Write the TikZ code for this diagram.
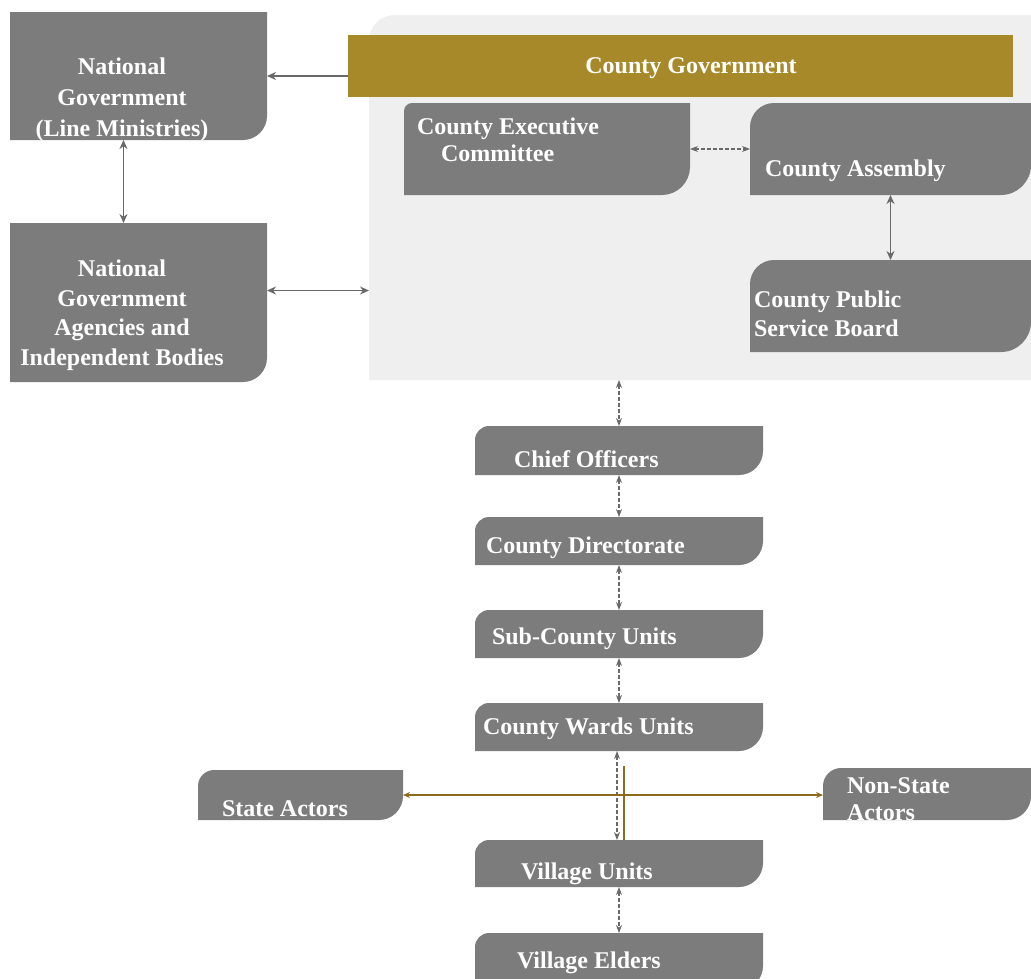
\documentclass[tikz,border=0pt]{standalone}
\usepackage{fontspec}
\setmainfont{Liberation Serif}
\usetikzlibrary{arrows.meta}
\definecolor{boxgray}{RGB}{124,124,124}
\definecolor{panelgray}{RGB}{239,239,239}
\definecolor{bargold}{RGB}{168,137,42}
\definecolor{arrowgray}{RGB}{105,105,105}
\definecolor{goldline}{RGB}{140,108,28}
\tikzset{
  boxfill/.style={fill=boxgray},
  hitbox/.style={inner sep=0pt, outer sep=0pt, draw=none, rectangle},
  lbl/.style={text=white, font=\fontsize{24}{28}\selectfont\bfseries, inner sep=0pt, outer sep=0pt},
  garrow/.style={draw=arrowgray, line width=1.4pt, {Stealth[length=9pt,width=8pt]}-{Stealth[length=9pt,width=8pt]}},
  oneway/.style={draw=arrowgray, line width=1.4pt, -{Stealth[length=9pt,width=8pt]}},
  sarrow/.style={draw=arrowgray, line width=1.1pt, dash pattern=on 4pt off 2pt, {Stealth[length=8pt,width=6pt]}-{Stealth[length=8pt,width=6pt]}},
  goldarrow/.style={draw=goldline, line width=1.8pt, {Stealth[length=7pt,width=6pt]}-{Stealth[length=7pt,width=6pt]}},
  goldstem/.style={draw=goldline, line width=2.6pt},
}
% name, x1, y1, x2, y2, top-left radius, bottom-right radius
\newcommand{\gbx}[7]{%
  \fill[boxfill] (#2,#3+#6) .. controls (#2,#3+0.45*#6) and (#2+0.45*#6,#3) .. (#2+#6,#3) -- (#4,#3) -- (#4,#5-#7) .. controls (#4,#5-0.45*#7) and (#4-0.45*#7,#5) .. (#4-#7,#5) -- (#2,#5) -- cycle;
  \node[hitbox, minimum width={(#4-#2)*1pt}, minimum height={(#5-#3)*1pt}] (#1) at ({(#2+#4)/2},{(#3+#5)/2}) {};
}
\begin{document}
\begin{tikzpicture}[x=1pt, y=-1pt]
\fill[white] (0,0) rectangle (1031,978);
\useasboundingbox (0,0) rectangle (1031,978);

% county panel
\fill[panelgray] (369,42) .. controls (369,26) and (380,15) .. (396,15) -- (1031,15) -- (1031,380) -- (369,380) -- cycle;
\node[hitbox, minimum width=662pt, minimum height=365pt] (panel) at (700,197.5) {};

% national boxes
\gbx{nat}{10}{12}{267}{140}{0}{24}
\gbx{ag}{10}{223}{267}{382}{0}{24}
\node[lbl, align=center, font=\fontsize{24}{31}\selectfont\bfseries] (natT) at (122,100) {National\\Government\\(Line Ministries)};
\node[lbl, align=center, font=\fontsize{24}{29.5}\selectfont\bfseries] (agT) at (122,315) {National\\Government\\Agencies and\\Independent Bodies};

% county government bar
\node[hitbox, fill=bargold, minimum width=665pt, minimum height=62pt] (bar) at (680.5,66) {};
\node[lbl] (barT) at (691,68) {County Government};

% county boxes
\gbx{cec}{404}{103}{690}{195}{8}{28}
\gbx{asm}{750}{103}{1031}{195}{24}{30}
\gbx{psb}{750}{260}{1031}{352}{24}{30}
\node[lbl, anchor=west, align=left, font=\fontsize{24}{27}\selectfont\bfseries] (cecT) at (417,140) {County Executive\\\hspace*{24pt}Committee};
\node[lbl, anchor=west] (asmT) at (765,171) {County Assembly};
\node[lbl, anchor=west, align=left, font=\fontsize{24}{29}\selectfont\bfseries] (psbT) at (754,314) {County Public\\Service Board};

% central column
\gbx{chief}{475}{426}{763}{475}{14}{24}
\gbx{dir}{475}{517}{763}{565}{14}{24}
\gbx{sub}{475}{610}{763}{658}{14}{24}
\gbx{wards}{475}{703}{763}{751}{14}{24}
\gbx{vill}{475}{840}{763}{887}{14}{24}
\gbx{eld}{475}{933}{763}{990}{14}{24}
\node[lbl, anchor=west] (chiefT) at (514,459) {Chief Officers};
\node[lbl, anchor=west] (dirT) at (486,548) {County Directorate};
\node[lbl, anchor=west] (subT) at (492,639) {Sub-County Units};
\node[lbl, anchor=west] (wardsT) at (483,729) {County Wards Units};
\node[lbl, anchor=west] (villT) at (521,874) {Village Units};
\node[lbl, anchor=west] (eldT) at (517,963) {Village Elders};

% actors
\gbx{state}{198}{770}{403}{820}{16}{24}
\gbx{nonstate}{823}{768}{1031}{820}{18}{24}
\node[lbl, anchor=west] (stateT) at (222,809) {State Actors};
\node[lbl, anchor=west, align=left, font=\fontsize{24}{27}\selectfont\bfseries] (nonstateT) at (847,799) {Non-State\\Actors};

% connectors
\draw[oneway] (bar.west |- nat.east) -- (nat.east);
\draw[garrow] ([xshift=-15pt]nat.south) -- ([xshift=-15pt]ag.north);
\draw[garrow] ([yshift=12pt]ag.east) -- ([yshift=12pt]ag.east -| panel.west);
\draw[sarrow] (cec.east) -- (asm.west);
\draw[garrow] (asm.south) -- (psb.north);
\draw[sarrow] (panel.south -| chief.north) -- (chief.north);
\draw[sarrow] (chief.south) -- (dir.north);
\draw[sarrow] (dir.south) -- (sub.north);
\draw[sarrow] (sub.south) -- (wards.north);
\draw[sarrow] ([xshift=-2pt]wards.south) -- ([xshift=-2pt]vill.north);
\draw[sarrow] (vill.south) -- (eld.north);

% gold connectors
\coordinate (goldtop) at (624,766);
\draw[goldstem] ([xshift=5pt]vill.north) -- (goldtop);
\draw[goldarrow] (state.east) -- (state.east -| nonstate.west);
\end{tikzpicture}
\end{document}
